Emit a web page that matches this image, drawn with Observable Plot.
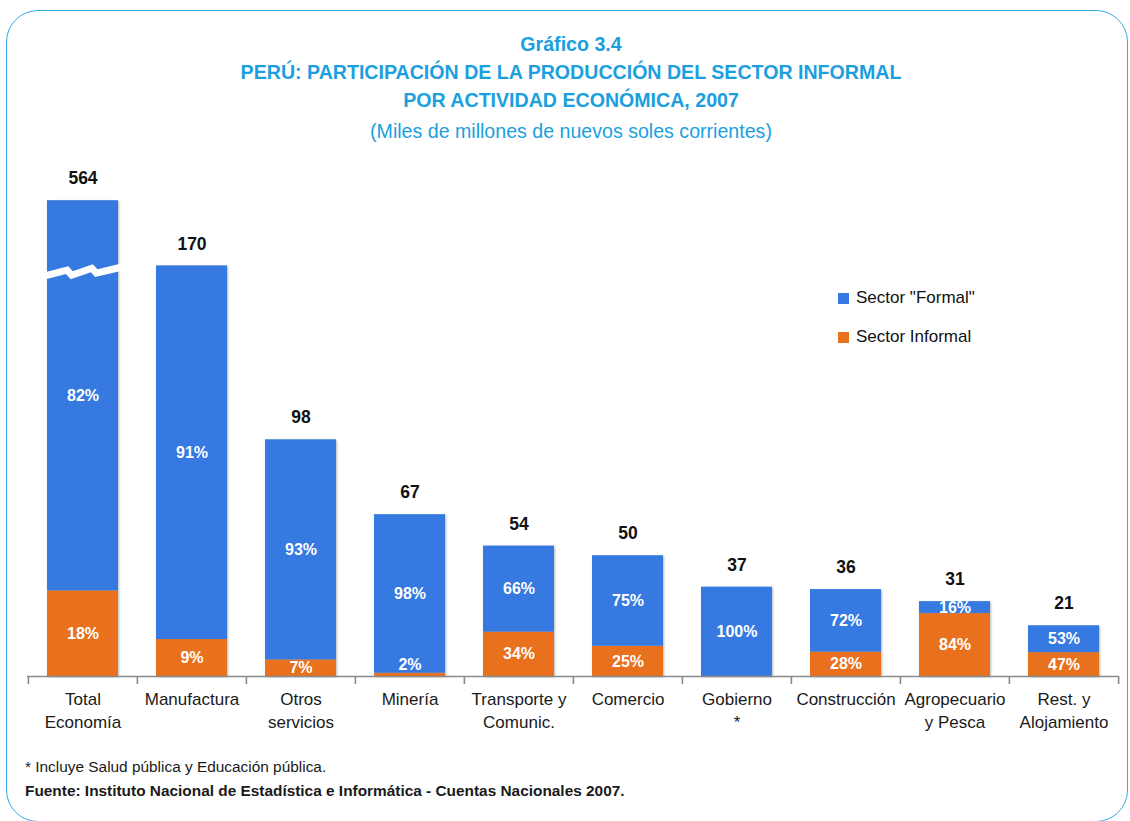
<!DOCTYPE html>
<html><head><meta charset="utf-8">
<script src="https://cdn.jsdelivr.net/npm/d3@7"></script>
<script src="https://cdn.jsdelivr.net/npm/@observablehq/plot@0.6"></script>
<style>
body{margin:0;background:#fff;font-family:"Liberation Sans",Arial,sans-serif;}
#wrap{position:relative;width:1130px;height:821px;overflow:hidden;background:#fff;}
#frame{position:absolute;left:6px;top:10px;width:1122px;height:812px;border:1.6px solid #35ace4;border-radius:32px;box-sizing:border-box;}
.t{position:absolute;left:0;width:1142px;text-align:center;color:#1b9fe0;font-size:19.6px;line-height:28px;white-space:nowrap;}
.b{font-weight:bold;}
#chart{position:absolute;left:0;top:150px;}
.lg{position:absolute;left:838px;font-size:17px;line-height:20px;color:#111;white-space:nowrap;}
.lg span{display:inline-block;width:11px;height:11px;margin-right:7px;vertical-align:-0.5px;}
.fn{position:absolute;left:25px;font-size:15.4px;line-height:18px;color:#1a1a1a;white-space:nowrap;}
#chart g[aria-label="bar"]{filter:drop-shadow(1.5px 1.5px 1.2px rgba(0,0,0,0.28));}
</style>
</head><body>
<div id="wrap">
  <div id="frame"></div>
  <div class="t b" style="top:30px">Gráfico 3.4</div>
  <div class="t b" style="top:58px">PERÚ: PARTICIPACIÓN DE LA PRODUCCIÓN DEL SECTOR INFORMAL</div>
  <div class="t b" style="top:86px">POR ACTIVIDAD ECONÓMICA, 2007</div>
  <div class="t" style="top:117px">(Miles de millones de nuevos soles corrientes)</div>
  <div id="chart"></div>
  <div class="lg" style="top:288px"><span style="background:#3579e1"></span>Sector "Formal"</div>
  <div class="lg" style="top:327px"><span style="background:#e9701c"></span>Sector Informal</div>
  <div class="fn" style="top:758px">* Incluye Salud pública y Educación pública.</div>
  <div class="fn b" style="top:782px">Fuente: Instituto Nacional de Estadística e Informática - Cuentas Nacionales 2007.</div>
</div>
<script>
// ---- data ----
const categories = ["Total\nEconomía","Manufactura","Otros\nservicios","Minería","Transporte y\nComunic.","Comercio","Gobierno\n*","Construcción","Agropecuario\ny Pesca","Rest. y\nAlojamiento"];
const totals = [564,170,98,67,54,50,37,36,31,21];
const formalPct = [82,91,93,98,66,75,100,72,16,53];
const informalPct = [18,9,7,2,34,25,0,28,84,47];
// broken axis: the Total bar is drawn up to breakCap, with a break mark at breakAt
const breakCap = 197;
const breakAt = 168;
const yMax = 209.5;

const colorFormal = "#3579e1";
const colorInformal = "#e9701c";

const rows = categories.map((c, i) => {
  const drawn = Math.min(totals[i], breakCap);
  const split = drawn * informalPct[i] / 100;
  return {cat: c, total: totals[i], drawn, split, formal: formalPct[i], informal: informalPct[i]};
});
const segs = rows.flatMap(r => [
  {cat: r.cat, sector: "Sector Informal", y1: 0, y2: r.split, pct: r.informal},
  {cat: r.cat, sector: "Sector \"Formal\"", y1: r.split, y2: r.drawn, pct: r.formal}
]).filter(d => d.pct > 0);

const W = 1130, H = 600, mL = 27, mR = 11, mT = 20, mB = 74;
const step = (W - mL - mR) / categories.length;
const pxPerUnit = (H - mT - mB) / yMax;
const tickUnits = 8 / pxPerUnit;

const breakMark = (index, scales) => {
  const xs = scales.x, ys = scales.y;
  const bw = typeof xs.bandwidth === "function" ? xs.bandwidth() : xs.bandwidth;
  const x0 = xs(categories[0]);
  const yc = ys(breakAt);
  const shape = [[0,6],[0.30,0],[0.36,5],[0.62,-2],[0.68,3],[1,-3]];
  const p = document.createElementNS("http://www.w3.org/2000/svg", "path");
  p.setAttribute("d", "M" + shape.map(([f, d]) => `${x0 - 3 + f * (bw + 6)},${yc + d}`).join("L"));
  p.setAttribute("fill", "none");
  p.setAttribute("stroke", "#fff");
  p.setAttribute("stroke-width", "7");
  p.setAttribute("stroke-linejoin", "miter");
  return p;
};

const plot = Plot.plot({
  width: W, height: H,
  marginLeft: mL, marginRight: mR, marginTop: mT, marginBottom: mB,
  style: {fontFamily: "'Liberation Sans', Arial, sans-serif", background: "transparent"},
  x: {domain: categories, paddingInner: 0.35, paddingOuter: 0.175, label: null},
  y: {domain: [0, yMax], axis: null},
  color: {domain: ["Sector \"Formal\"", "Sector Informal"], range: [colorFormal, colorInformal]},
  marks: [
    Plot.barY(segs, {x: "cat", y1: "y1", y2: "y2", fill: "sector"}),
    breakMark,
    Plot.ruleY([0], {stroke: "#8a8a8a", strokeWidth: 1.6}),
    Plot.ruleX(categories, {x: d => d, dx: -step / 2, y1: 0, y2: -tickUnits, stroke: "#8a8a8a", strokeWidth: 1.6}),
    Plot.ruleX([categories[categories.length - 1]], {x: d => d, dx: step / 2, y1: 0, y2: -tickUnits, stroke: "#8a8a8a", strokeWidth: 1.6}),
    Plot.axisX({tickSize: 0, tickPadding: 12, fontSize: 17, lineHeight: 1.353, fill: "#1a1a1a"}),
    Plot.text(rows, {x: "cat", y: "drawn", text: d => String(d.total), dy: -22, fontSize: 17.5, fontWeight: "bold", fill: "#111"}),
    Plot.text(segs.filter(d => (d.y2 - d.y1) * pxPerUnit >= 6), {x: "cat", y: d => (d.y1 + d.y2) / 2, text: d => d.pct + "%", fontSize: 16, fontWeight: "bold", fill: "#fff"}),
    Plot.text(segs.filter(d => (d.y2 - d.y1) * pxPerUnit < 6), {x: "cat", y: d => (d.y1 + d.y2) / 2, dy: -10, text: d => d.pct + "%", fontSize: 16, fontWeight: "bold", fill: "#fff"})
  ]
});
document.getElementById("chart").appendChild(plot);
</script>
</body></html>
